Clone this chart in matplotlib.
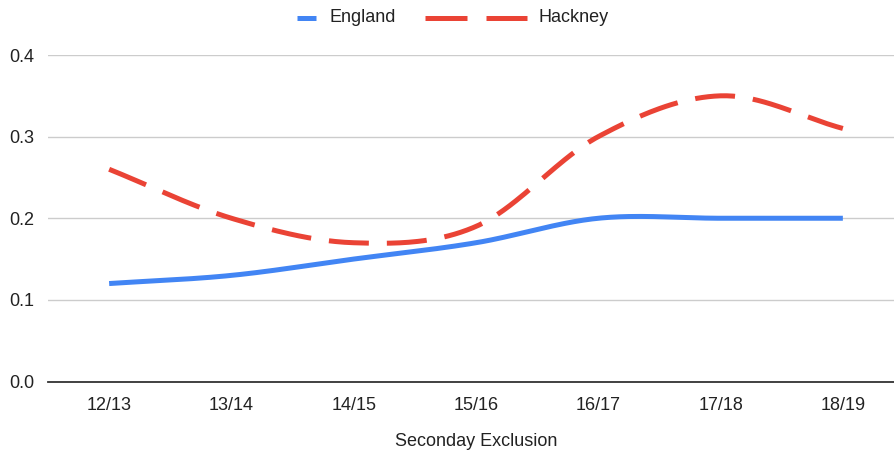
import numpy as np
import matplotlib
matplotlib.use("Agg")
import matplotlib.pyplot as plt
from matplotlib.lines import Line2D

plt.rcParams['font.family'] = ['Liberation Sans', 'DejaVu Sans']

years = ["12/13", "13/14", "14/15", "15/16", "16/17", "17/18", "18/19"]
england = [0.12, 0.13, 0.15, 0.17, 0.20, 0.20, 0.20]
hackney = [0.26, 0.20, 0.17, 0.19, 0.30, 0.35, 0.31]

BLUE = "#4285F4"
RED = "#EA4335"
TEXT = "#222222"


def smooth(y, steps=40):
    """Catmull-Rom style cubic through the points, for a curved line."""
    y = np.asarray(y, dtype=float)
    n = len(y)
    m = np.zeros(n)
    m[1:-1] = (y[2:] - y[:-2]) / 2
    m[0] = y[1] - y[0]
    m[-1] = y[-1] - y[-2]
    xs, ys = [], []
    for i in range(n - 1):
        t = np.linspace(0, 1, steps, endpoint=(i == n - 2))
        h00 = 2 * t**3 - 3 * t**2 + 1
        h10 = t**3 - 2 * t**2 + t
        h01 = -2 * t**3 + 3 * t**2
        h11 = t**3 - t**2
        xs.append(i + t)
        ys.append(h00 * y[i] + h10 * m[i] + h01 * y[i + 1] + h11 * m[i + 1])
    return np.concatenate(xs), np.concatenate(ys)


W, H = 895, 454
fig = plt.figure(figsize=(W / 100, H / 100), dpi=100)
left, right = 48, 904
bottom, top = 381.5, 55
ax = fig.add_axes([left / W, 1 - bottom / H, (right - left) / W, (bottom - top) / H])

x = np.arange(len(years))
ex, ey = smooth(england)
hx, hy = smooth(hackney)
ax.plot(ex, ey, color=BLUE, lw=3.6, solid_capstyle='butt', clip_on=False, zorder=3)
ax.plot(hx, hy, color=RED, lw=3.6, dashes=(8, 3.6), dash_capstyle='butt', clip_on=False, zorder=3)

ax.set_xlim(-0.5, len(years) - 0.5)
ax.set_ylim(0, 0.4)
ax.set_xticks(x, years)
ax.set_yticks([0.0, 0.1, 0.2, 0.3, 0.4], ["0.0", "0.1", "0.2", "0.3", "0.4"])
ax.tick_params(length=0, labelsize=13, labelcolor=TEXT)
ax.tick_params(axis='x', pad=11)
ax.tick_params(axis='y', pad=10)
ax.grid(axis='y', color="#CCCCCC", lw=1)
ax.set_axisbelow(True)
for s in ["top", "right", "left"]:
    ax.spines[s].set_visible(False)
ax.spines["bottom"].set_color("#333333")
ax.spines["bottom"].set_linewidth(1.3)
ax.spines["bottom"].set_zorder(4)

ax.set_xlabel("Seconday Exclusion", fontsize=13, color=TEXT, labelpad=14)

# legend drawn by hand so the two keys can have different lengths
def fy(py):
    return 1 - py / H

fig.add_artist(Line2D([297 / W, 316 / W], [fy(18), fy(18)], color=BLUE, lw=3.6,
                      solid_capstyle='butt', transform=fig.transFigure))
fig.text(330 / W, fy(18), "England", fontsize=13, color=TEXT, va='center', ha='left')
fig.add_artist(Line2D([425 / W, 527 / W], [fy(18), fy(18)], color=RED, lw=3.6,
                      dashes=(8.4, 3.8), dash_capstyle='butt', transform=fig.transFigure))
fig.text(539 / W, fy(18), "Hackney", fontsize=13, color=TEXT, va='center', ha='left')

fig.savefig("out.png", dpi=100)
